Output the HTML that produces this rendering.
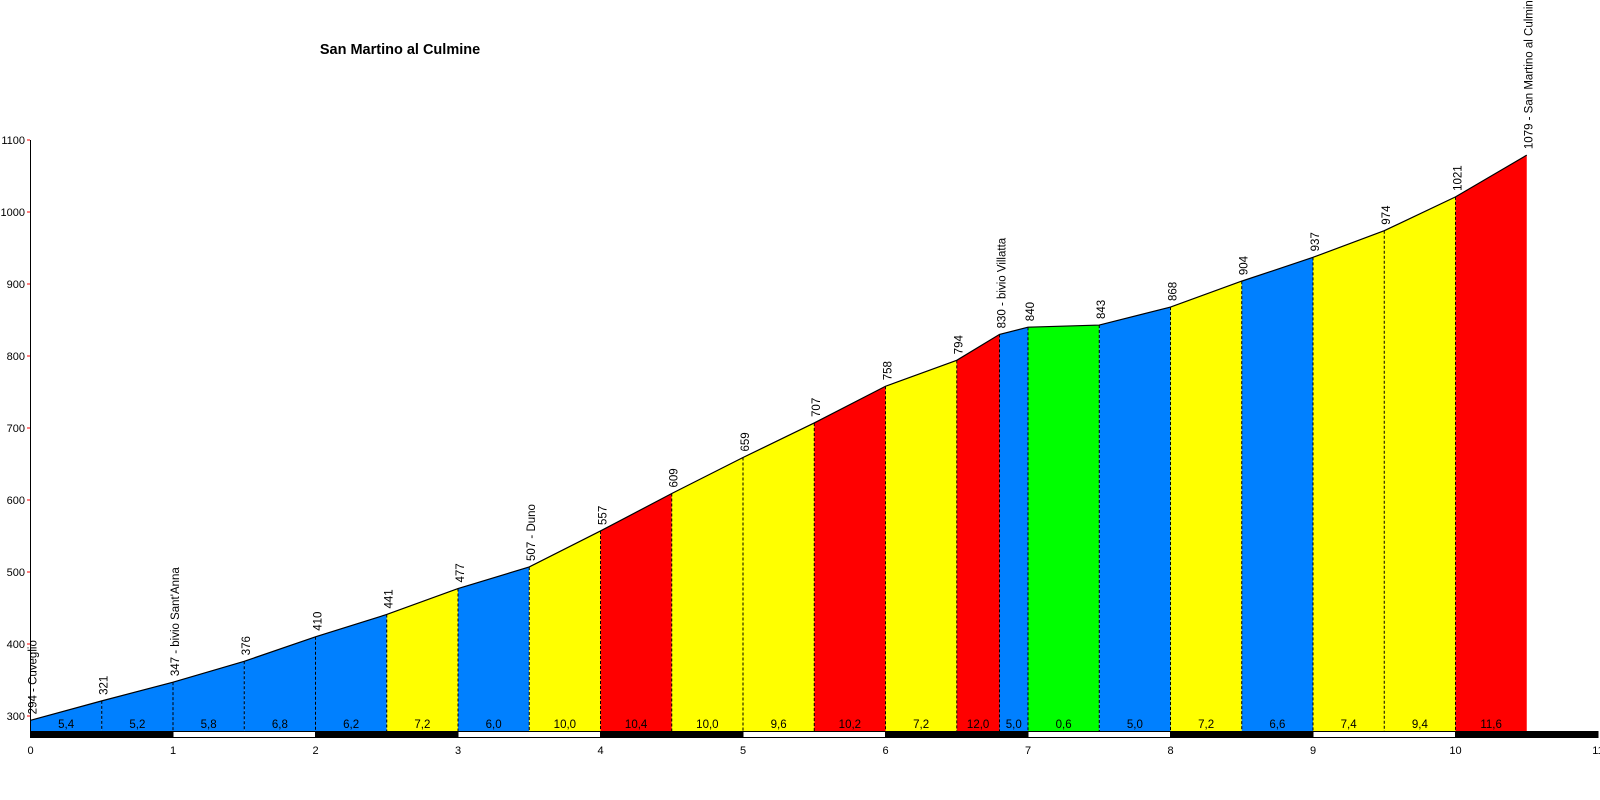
<!DOCTYPE html>
<html><head><meta charset="utf-8"><style>
html,body{margin:0;padding:0;background:#fff;}
svg{display:block;font-family:"Liberation Sans",sans-serif;}
</style></head><body>
<svg id="chart" width="1600" height="800">
<text x="400" y="54" text-anchor="middle" font-size="14.5" font-weight="bold">San Martino al Culmine</text>
</svg>
<script>
const distances=[0,0.5,1,1.5,2,2.5,3,3.5,4,4.5,5,5.5,6,6.5,6.8,7,7.5,8,8.5,9,9.5,10,10.5];
const elevations=[294,321,347,376,410,441,477,507,557,609,659,707,758,794,830,840,843,868,904,937,974,1021,1079];
const gradients=["5,4","5,2","5,8","6,8","6,2","7,2","6,0","10,0","10,4","10,0","9,6","10,2","7,2","12,0","5,0","0,6","5,0","7,2","6,6","7,4","9,4","11,6"];
const placeNames={0:"Cuveglio",2:"bivio Sant'Anna",7:"Duno",14:"bivio Villatta",22:"San Martino al Culmine"};
const yTicks=[300,400,500,600,700,800,900,1000,1100];
const xTicks=[0,1,2,3,4,5,6,7,8,9,10,11];
const NS="http://www.w3.org/2000/svg";
const svg=document.getElementById('chart');
const X=d=>30.5+d*142.5;
const Y=v=>716-(v-300)*0.72;
const BASE=731;
function mk(t,a){const e=document.createElementNS(NS,t);for(const k in a)e.setAttribute(k,a[k]);svg.appendChild(e);return e;}
function col(g){const v=parseFloat(g.replace(',','.'));if(v<3)return '#00ff00';if(v<7)return '#0080ff';if(v<10.1)return '#ffff00';return '#ff0000';}
for(let i=0;i<gradients.length;i++){
  const x1=X(distances[i]),x2=X(distances[i+1]);
  const p=mk('polygon',{points:`${x1},${BASE} ${x1},${Y(elevations[i])} ${x2},${Y(elevations[i+1])} ${x2},${BASE}`,fill:col(gradients[i])});
  
  
  const t=mk('text',{x:(x1+x2)/2,y:728,'text-anchor':'middle','font-size':'11.5'});
  t.textContent=gradients[i];
  
  
}
for(let i=1;i<distances.length-1;i++){
  const l=mk('line',{x1:X(distances[i]),x2:X(distances[i]),y1:Y(elevations[i]),y2:BASE,stroke:'#000','stroke-dasharray':'3,2','stroke-width':1});
  
  
}
const pl=mk('polyline',{points:distances.map((d,i)=>X(d)+','+Y(elevations[i])).join(' '),fill:'none',stroke:'#000','stroke-width':1.2});


for(let i=0;i<distances.length;i++){
  const x=X(distances[i])+6,y=Y(elevations[i])-6;
  const t=mk('text',{x:x,y:y,'font-size':'11.5',transform:`rotate(-90 ${x} ${y})`});
  t.textContent=elevations[i]+(placeNames[i]?' - '+placeNames[i]:'');
  
  
}
for(let k=0;k<xTicks.length-1;k++){
  const r=mk('rect',{x:X(xTicks[k]),y:BASE+0.5,width:142.5,height:6,fill:k%2?'#fff':'#000',stroke:'#000','stroke-width':1});
  
  
}
xTicks.forEach(k=>{
  const t=mk('text',{x:X(k),y:754,'text-anchor':'middle','font-size':'11'});
  t.textContent=k;
  
  
});
const ax=mk('line',{x1:30.5,x2:30.5,y1:140,y2:BASE,stroke:'#000','stroke-width':1});


yTicks.forEach(v=>{
  const tk=mk('line',{x1:27,x2:30,y1:Y(v),y2:Y(v),stroke:'#ff0000','stroke-width':1});
  
  
  const t=mk('text',{x:25,y:Y(v)+4,'text-anchor':'end','font-size':'11'});
  t.textContent=v;
  
  
});
</script>
</body></html>
